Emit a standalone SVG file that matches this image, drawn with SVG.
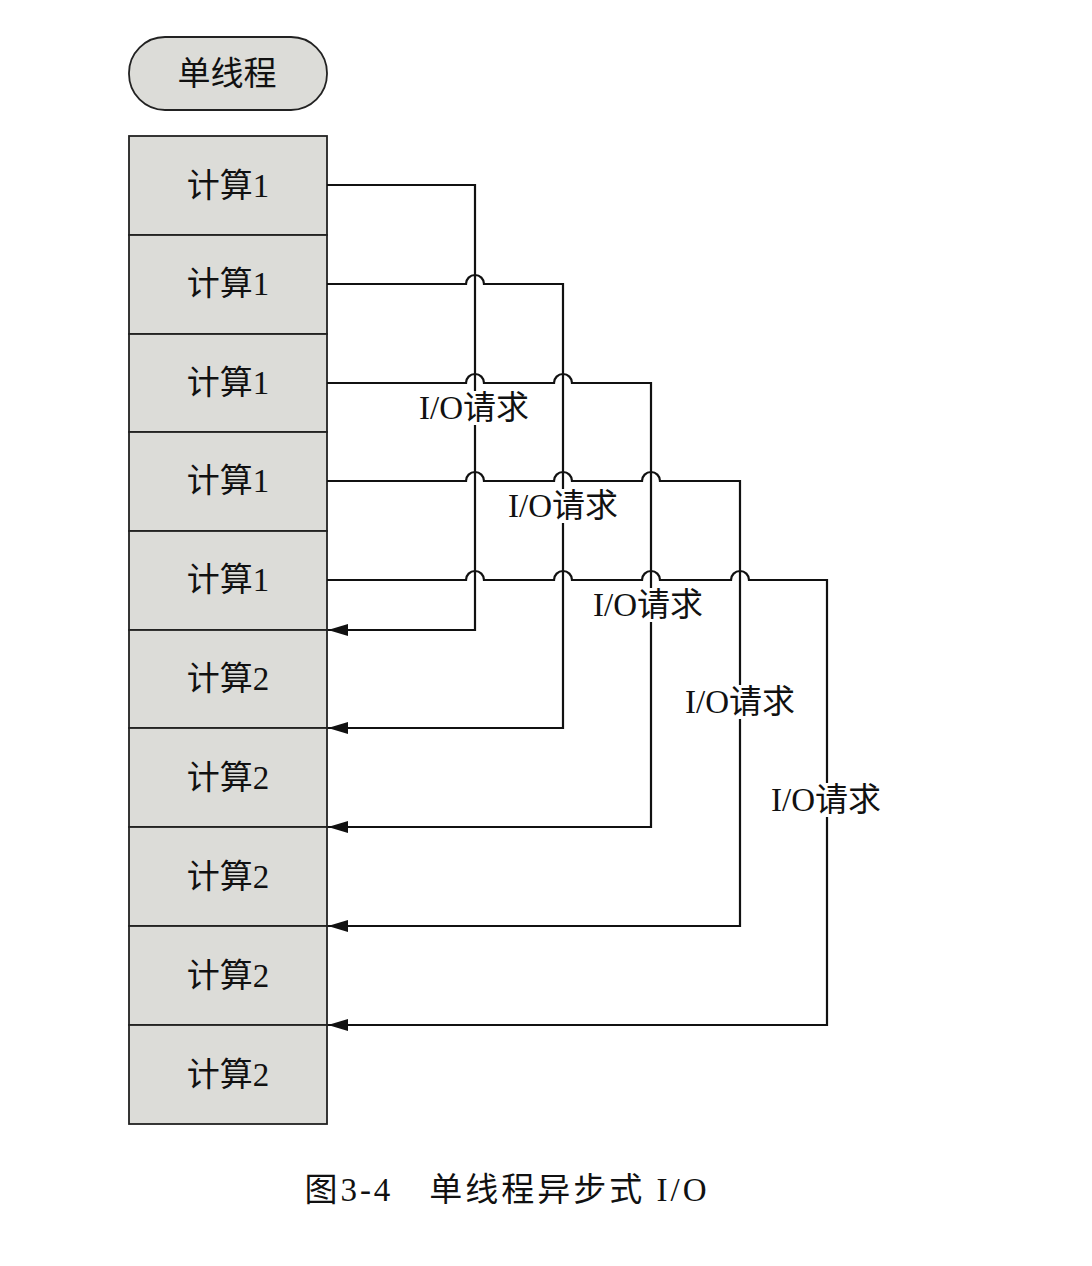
<svg xmlns="http://www.w3.org/2000/svg" width="1092" height="1266" viewBox="0 0 1092 1266">
<style>
.box{fill:#dcdcd8;stroke:#222;stroke-width:1.8}
.t{font-family:"Liberation Serif","Noto Sans CJK SC",serif;font-size:33px;fill:#111;text-anchor:middle}
.c{fill:none;stroke:#111;stroke-width:2.2}
.bg{fill:#fff}
</style>
<defs>
<marker id="ah" markerUnits="userSpaceOnUse" markerWidth="20" markerHeight="12" refX="20" refY="6" orient="auto">
<path d="M0,0 L20,6 L0,12 z" fill="#111"/>
</marker>
</defs>
<rect width="1092" height="1266" fill="#fff"/>
<g id="start">
<rect class="box" x="129" y="37" width="198" height="73" rx="36" ry="36"/>
<text class="t" x="227" y="85" font-size="34">单线程</text>
</g>
<g id="b1"><rect class="box" x="129" y="136" width="198" height="99"/><text class="t" x="228" y="197">计算1</text></g>
<g id="b2"><rect class="box" x="129" y="235" width="198" height="99"/><text class="t" x="228" y="295">计算1</text></g>
<g id="b3"><rect class="box" x="129" y="334" width="198" height="98"/><text class="t" x="228" y="394">计算1</text></g>
<g id="b4"><rect class="box" x="129" y="432" width="198" height="99"/><text class="t" x="228" y="492">计算1</text></g>
<g id="b5"><rect class="box" x="129" y="531" width="198" height="99"/><text class="t" x="228" y="591">计算1</text></g>
<g id="b6"><rect class="box" x="129" y="630" width="198" height="98"/><text class="t" x="228" y="690">计算2</text></g>
<g id="b7"><rect class="box" x="129" y="728" width="198" height="99"/><text class="t" x="228" y="789">计算2</text></g>
<g id="b8"><rect class="box" x="129" y="827" width="198" height="99"/><text class="t" x="228" y="888">计算2</text></g>
<g id="b9"><rect class="box" x="129" y="926" width="198" height="99"/><text class="t" x="228" y="987">计算2</text></g>
<g id="b10"><rect class="box" x="129" y="1025" width="198" height="99"/><text class="t" x="228" y="1086">计算2</text></g>
<g id="connectors">
<path class="c" marker-end="url(#ah)" d="M327,185 H475 V630 H328"/>
<path class="c" marker-end="url(#ah)" d="M327,284 H466 A9,9 0 0 1 484,284 H563 V728 H328"/>
<path class="c" marker-end="url(#ah)" d="M327,383 H466 A9,9 0 0 1 484,383 H554 A9,9 0 0 1 572,383 H651 V827 H328"/>
<path class="c" marker-end="url(#ah)" d="M327,481 H466 A9,9 0 0 1 484,481 H554 A9,9 0 0 1 572,481 H642 A9,9 0 0 1 660,481 H740 V926 H328"/>
<path class="c" marker-end="url(#ah)" d="M327,580 H466 A9,9 0 0 1 484,580 H554 A9,9 0 0 1 572,580 H642 A9,9 0 0 1 660,580 H731 A9,9 0 0 1 749,580 H827 V1025 H328"/>
</g>
<g id="labels">
<rect class="bg" x="417" y="391" width="114" height="34"/><text class="t" x="474" y="419">I/O请求</text>
<rect class="bg" x="506" y="489" width="114" height="34"/><text class="t" x="563" y="517">I/O请求</text>
<rect class="bg" x="591" y="588" width="114" height="34"/><text class="t" x="648" y="616">I/O请求</text>
<rect class="bg" x="683" y="685" width="114" height="34"/><text class="t" x="740" y="713">I/O请求</text>
<rect class="bg" x="769" y="783" width="114" height="34"/><text class="t" x="826" y="811">I/O请求</text>
</g>
<text class="t" x="507" y="1201" font-size="39" letter-spacing="3">图3-4　单线程异步式 I/O</text>
</svg>
